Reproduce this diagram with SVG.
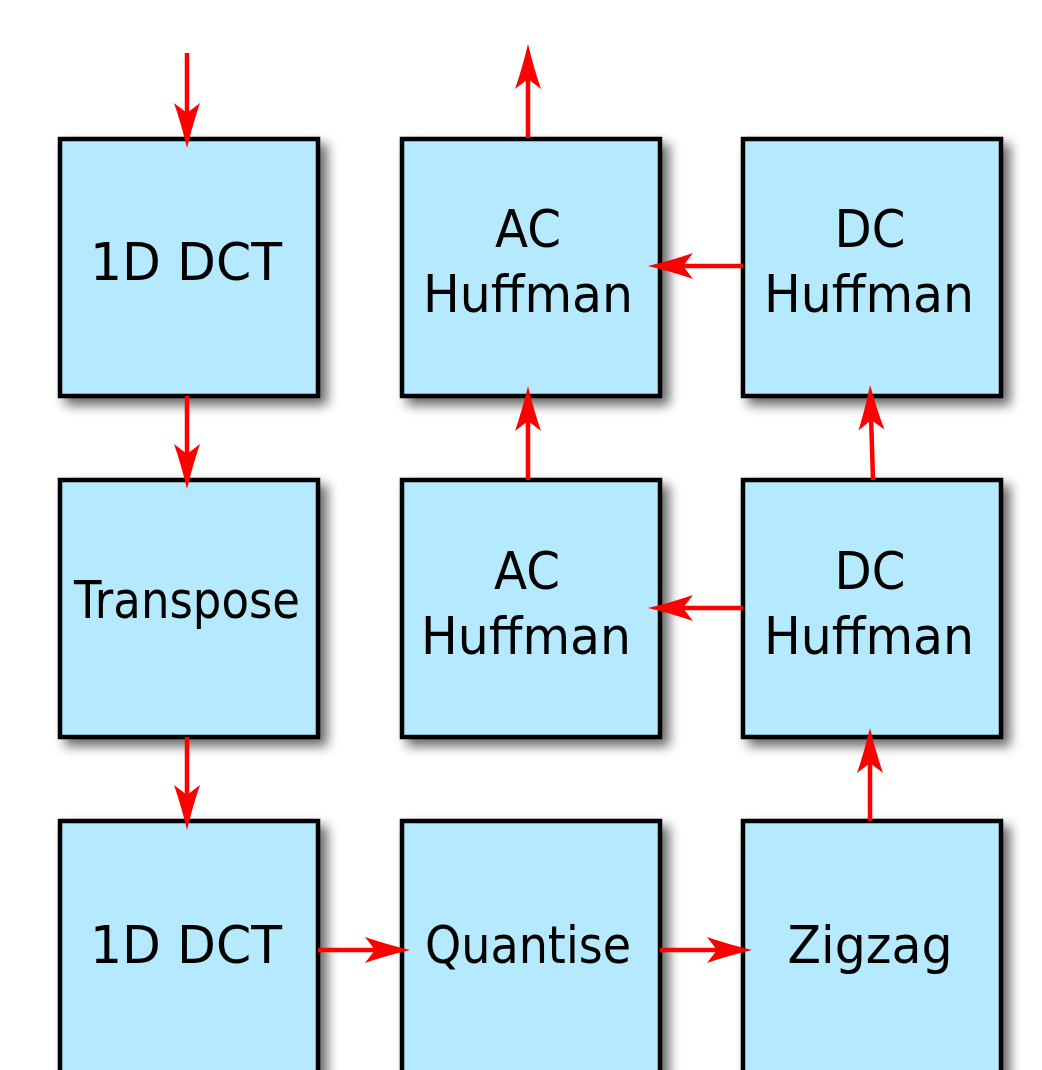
<svg xmlns="http://www.w3.org/2000/svg" width="1042" height="1070" viewBox="0 0 1042 1070">
<style>
.box{fill:#b5e9fd;stroke:#000;stroke-width:4.5;filter:url(#sh)}
.t{font-family:"DejaVu Sans",sans-serif;font-size:52px;fill:#000;text-anchor:middle}
.c{fill:none;stroke:#ff0000;stroke-width:4.5;marker-end:url(#ah)}
</style>
<defs>
<filter id="sh" x="-15%" y="-15%" width="140%" height="140%">
<feGaussianBlur in="SourceAlpha" stdDeviation="6"/>
<feOffset dx="7" dy="7" result="b"/>
<feComponentTransfer><feFuncA type="linear" slope="0.6"/></feComponentTransfer>
<feMerge><feMergeNode/><feMergeNode in="SourceGraphic"/></feMerge>
</filter>
<marker id="ah" markerUnits="userSpaceOnUse" markerWidth="60" markerHeight="40" viewBox="0 -20 60 40" refX="15" refY="0" orient="auto" overflow="visible">
<path d="M0,-13 Q20,-6 45,0 Q20,6 0,13 L10,0 Z" fill="#ff0000"/>
</marker>
</defs>
<rect width="1042" height="1070" fill="#fff"/>
<g id="dct1"><rect class="box" x="60" y="139" width="258" height="257"/><text class="t" x="186" y="280" textLength="192" lengthAdjust="spacingAndGlyphs">1D DCT</text></g>
<g id="transpose"><rect class="box" x="60" y="480" width="258" height="257"/><text class="t" x="187" y="618" textLength="226" lengthAdjust="spacingAndGlyphs">Transpose</text></g>
<g id="dct2"><rect class="box" x="60" y="821" width="258" height="257"/><text class="t" x="186" y="963" textLength="192" lengthAdjust="spacingAndGlyphs">1D DCT</text></g>
<g id="achuff1"><rect class="box" x="402" y="139" width="258" height="257"/><text class="t" x="528" y="247" textLength="66" lengthAdjust="spacingAndGlyphs">AC</text><text class="t" x="528" y="312" textLength="210" lengthAdjust="spacingAndGlyphs">Huffman</text></g>
<g id="achuff2"><rect class="box" x="402" y="480" width="258" height="257"/><text class="t" x="527" y="589" textLength="66" lengthAdjust="spacingAndGlyphs">AC</text><text class="t" x="526" y="654" textLength="210" lengthAdjust="spacingAndGlyphs">Huffman</text></g>
<g id="quantise"><rect class="box" x="402" y="821" width="258" height="257"/><text class="t" x="528" y="963" textLength="206" lengthAdjust="spacingAndGlyphs">Quantise</text></g>
<g id="dchuff1"><rect class="box" x="743" y="139" width="258" height="257"/><text class="t" x="870" y="247" textLength="71" lengthAdjust="spacingAndGlyphs">DC</text><text class="t" x="869" y="312" textLength="210" lengthAdjust="spacingAndGlyphs">Huffman</text></g>
<g id="dchuff2"><rect class="box" x="743" y="480" width="258" height="257"/><text class="t" x="870" y="589" textLength="71" lengthAdjust="spacingAndGlyphs">DC</text><text class="t" x="869" y="654" textLength="210" lengthAdjust="spacingAndGlyphs">Huffman</text></g>
<g id="zigzag"><rect class="box" x="743" y="821" width="258" height="257"/><text class="t" x="870" y="963" textLength="165" lengthAdjust="spacingAndGlyphs">Zigzag</text></g>
<g id="connectors">
<path class="c" d="M187,53 L187,118"/>
<path class="c" d="M187,396 L187,459"/>
<path class="c" d="M187,737 L187,800"/>
<path class="c" d="M318,950 L380,950"/>
<path class="c" d="M660,950 L722,950"/>
<path class="c" d="M870,821 L870,758"/>
<path class="c" d="M873,480 L871,415"/>
<path class="c" d="M743,608 L678,608"/>
<path class="c" d="M743,266 L678,266"/>
<path class="c" d="M528,480 L528,416"/>
<path class="c" d="M528,138 L528,74"/>
</g>
</svg>
